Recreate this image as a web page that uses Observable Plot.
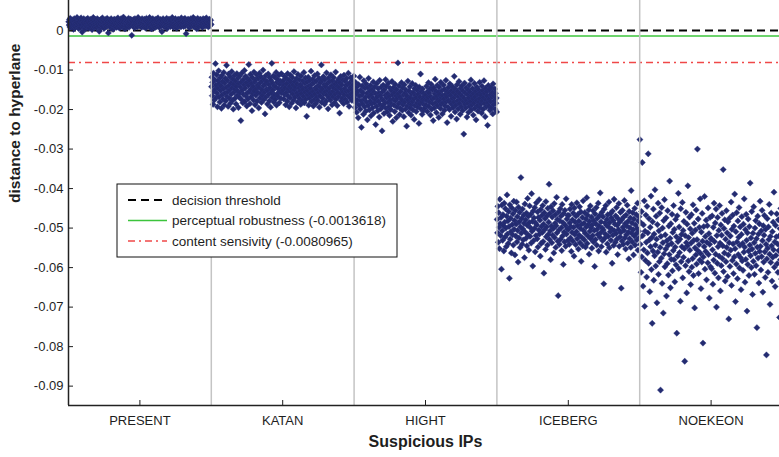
<!DOCTYPE html>
<html><head><meta charset="utf-8">
<script src="https://cdn.jsdelivr.net/npm/d3@7"></script>
<script src="https://cdn.jsdelivr.net/npm/@observablehq/plot@0.6"></script>
<style>
html,body{margin:0;padding:0;background:#fff;overflow:hidden}
#wrap{position:relative;width:779px;height:457px;overflow:hidden}
#legend{position:absolute;left:116px;top:183px}
</style></head><body><div id="wrap"></div>
<script>
// Categories (suspicious IPs)
const groups = ["PRESENT", "KATAN", "HIGHT", "ICEBERG", "NOEKEON"];
// Distance to hyperplane per sample, in units of 1e-4
const present = [22,14,28,9,31,18,25,6,20,12,27,16,3,24,30,11,19,8,26,15,
21,33,10,17,29,5,23,13,27,7,18,32,14,22,-4,25,9,20,30,12,
16,26,4,19,28,11,23,8,31,15,21,17,6,27,13,24,29,10,18,2,
25,14,33,20,9,22,16,28,12,26,7,19,30,15,23,11,27,-2,21,17,
24,8,29,13,20,32,10,25,18,5,22,14,28,16,9,26,19,31,12,23,
-6,21,15,27,11,24,7,30,17,20,13,26,3,22,18,29,10,25,14,19,
28,8,23,16,32,12,21,27,6,24,15,20,30,11,18,26,9,22,34,13,
25,17,4,28,19,14,23,10,27,21,16,31,8,24,12,20,29,15,26,-12,
18,22,11,28,14,25,7,30,19,16,23,13,27,9,21,33,17,24,12,26,
19,27,12,23,8,30,16,21,26,10,14,29,18,24,6,22,31,13,20,25,
11,17,28,15,33,9,23,19,26,4,21,14,30,17,24,12,27,7,20,16,
29,22,10,25,18,32,13,23,8,26,19,15,28,11,21,-3,24,17,30,14,
20,9,26,22,13,27,16,31,5,23,18,25,12,29,20,15,24,10,28,17,
22,33,14,26,8,19,27,12,21,30,16,24,6,25,18,13,29,20,11,23,
27,15,22,9,32,18,26,14,20,28,10,24,17,31,12,21,-8,25,16,23,
19,29,13,22,7,27,15,20,30,11,24,18,26,14,33,21,9,23,17,28,
12,25,19,4,22,31,16,27,10,20,24,13,29,18,23,15,26,8,21,30,
14,24,17,28,11,22,19,32,13,25,16,27,9,20,23,29,12,18,26,15];
const katan = [-142,-118,-165,-131,-187,-108,-154,-176,-125,-149,-84,-138,-170,-112,-159,-193,-127,-146,-102,-168,
-135,-181,-119,-152,-140,-197,-114,-163,-129,-174,-147,-106,-189,-133,-158,-121,-178,-144,-88,-167,
-126,-155,-192,-110,-139,-171,-150,-117,-184,-132,-161,-104,-145,-177,-123,-199,-136,-156,-113,-172,
-148,-128,-186,-141,-109,-164,-153,-120,-195,-134,-169,-115,-157,-143,-228,-130,-175,-107,-151,-183,
-124,-162,-137,-101,-180,-146,-116,-166,-131,-191,-158,-122,-173,-139,-86,-155,-127,-185,-111,-149,
-168,-134,-203,-119,-160,-142,-176,-105,-153,-130,-188,-125,-164,-147,-112,-179,-138,-157,-121,-196,
-144,-108,-171,-132,-159,-117,-182,-150,-127,-165,-100,-140,-175,-123,-156,-211,-135,-114,-168,-148,
-129,-186,-152,-110,-162,-137,-178,-119,-145,-194,-126,-157,-83,-170,-133,-151,-115,-181,-140,-163,
-118,-174,-143,-106,-189,-131,-160,-124,-167,-148,-113,-183,-136,-155,-128,-172,-109,-158,-146,-130,
-151,-127,-173,-139,-116,-162,-145,-188,-121,-157,-134,-179,-109,-166,-148,-125,-193,-141,-170,-113,
-155,-131,-184,-147,-119,-161,-138,-176,-104,-150,-129,-168,-143,-196,-122,-158,-135,-181,-111,-164,
-146,-124,-172,-153,-137,-187,-115,-160,-142,-178,-128,-149,-167,-106,-183,-133,-156,-120,-174,-144,
-217,-130,-163,-152,-118,-189,-140,-171,-126,-159,-147,-103,-180,-136,-165,-123,-154,-191,-132,-175,
-114,-161,-145,-185,-128,-150,-169,-110,-177,-139,-157,-121,-194,-143,-166,-131,-153,-87,-182,-126,
-148,-172,-117,-160,-137,-186,-124,-155,-142,-179,-107,-164,-134,-151,-198,-120,-170,-146,-129,-158,
-176,-112,-162,-140,-188,-127,-153,-168,-119,-145,-183,-135,-161,-105,-174,-149,-130,-190,-141,-157,
-123,-167,-144,-209,-132,-159,-116,-178,-150,-137,-171,-125,-156,-185,-113,-163,-147,-128,-175,-139,
-154,-121,-181,-136,-165,-108,-152,-192,-133,-170,-144,-119,-160,-149,-177,-126,-158,-138,-168,-115];
const hight = [-172,-148,-195,-131,-183,-160,-207,-142,-176,-154,-221,-137,-189,-166,-118,-199,-151,-178,-245,-163,
-140,-186,-157,-212,-127,-174,-193,-146,-169,-204,-135,-181,-159,-226,-144,-190,-121,-167,-201,-153,
-179,-139,-216,-162,-185,-149,-196,-171,-130,-209,-156,-183,-142,-175,-238,-161,-192,-134,-168,-203,
-147,-180,-158,-219,-126,-187,-165,-198,-143,-173,-254,-155,-191,-138,-177,-210,-150,-184,-164,-124,
-197,-141,-170,-206,-159,-182,-133,-193,-167,-215,-146,-176,-200,-152,-186,-129,-162,-230,-174,-144,
-189,-157,-205,-136,-178,-166,-221,-149,-194,-171,-82,-160,-185,-140,-213,-168,-197,-154,-180,-132,
-175,-202,-145,-188,-163,-218,-137,-181,-158,-199,-150,-172,-242,-165,-191,-128,-176,-208,-153,-184,
-142,-196,-169,-214,-160,-187,-134,-179,-201,-156,-173,-225,-147,-190,-164,-139,-205,-170,-183,-151,
-194,-161,-177,-235,-143,-186,-168,-110,-198,-155,-181,-212,-148,-174,-203,-159,-188,-166,-196,-175,
-163,-188,-141,-176,-205,-154,-169,-132,-192,-158,-181,-147,-214,-167,-136,-199,-173,-150,-185,-228,
-145,-171,-196,-160,-123,-183,-153,-208,-166,-139,-190,-175,-156,-220,-143,-179,-162,-197,-131,-186,
-170,-152,-211,-165,-184,-138,-174,-202,-149,-191,-161,-126,-180,-168,-233,-155,-194,-144,-177,-159,
-200,-135,-182,-164,-217,-151,-187,-172,-142,-195,-157,-181,-116,-169,-206,-148,-189,-163,-224,-137,
-178,-154,-198,-167,-129,-185,-160,-212,-146,-174,-193,-140,-166,-203,-153,-180,-262,-171,-133,-187,
-158,-196,-145,-176,-219,-162,-184,-150,-207,-170,-138,-192,-156,-179,-125,-201,-165,-188,-147,-173,
-214,-159,-183,-134,-197,-168,-153,-226,-177,-143,-190,-161,-204,-149,-181,-172,-131,-195,-157,-186,
-164,-209,-141,-178,-152,-199,-170,-127,-185,-160,-218,-146,-175,-193,-155,-166,-240,-182,-139,-191,
-173,-150,-202,-162,-180,-144,-196,-168,-157,-211,-135,-187,-165,-178,-148,-199,-159,-184,-171,-206];
const iceberg = [-478,-512,-445,-536,-461,-498,-552,-427,-489,-519,-473,-604,-442,-507,-531,-466,-494,-558,-437,-485,
-523,-451,-500,-547,-470,-416,-515,-482,-539,-458,-496,-627,-441,-528,-475,-509,-563,-449,-491,-517,
-464,-543,-432,-503,-481,-568,-455,-520,-490,-434,-535,-471,-506,-586,-447,-525,-484,-460,-549,-497,
-372,-513,-476,-541,-452,-502,-530,-467,-488,-575,-439,-510,-479,-526,-462,-545,-493,-425,-517,-470,
-556,-486,-444,-521,-499,-465,-538,-413,-508,-483,-596,-457,-532,-474,-501,-448,-560,-487,-519,-436,
-492,-527,-459,-548,-473,-505,-428,-515,-480,-571,-453,-539,-496,-468,-511,-443,-534,-490,-614,-461,
-504,-476,-554,-433,-522,-497,-469,-543,-450,-516,-485,-389,-529,-463,-507,-580,-446,-495,-537,-472,
-518,-456,-501,-563,-438,-524,-488,-466,-549,-494,-422,-512,-478,-533,-671,-459,-505,-541,-482,-451,
-528,-470,-499,-557,-440,-520,-486,-592,-463,-510,-535,-455,-493,-546,-426,-515,-477,-502,-468,-531,
-503,-468,-541,-487,-452,-525,-496,-559,-440,-511,-479,-533,-462,-498,-571,-449,-516,-485,-542,-470,
-509,-436,-527,-494,-465,-553,-482,-518,-446,-537,-501,-459,-584,-490,-524,-473,-545,-431,-506,-488,
-530,-461,-513,-548,-477,-497,-423,-539,-467,-520,-491,-454,-566,-483,-508,-444,-527,-499,-472,-551,
-492,-519,-456,-535,-481,-506,-597,-464,-529,-489,-448,-543,-503,-475,-516,-437,-558,-495,-469,-523,
-411,-512,-484,-547,-460,-500,-532,-471,-505,-641,-452,-526,-487,-515,-443,-561,-493,-478,-540,-466,
-521,-497,-434,-550,-486,-509,-463,-531,-474,-502,-589,-457,-518,-481,-544,-427,-507,-490,-536,-469,
-514,-448,-528,-493,-567,-476,-504,-438,-546,-485,-522,-460,-511,-652,-479,-533,-455,-498,-541,-472,
-506,-430,-525,-489,-553,-467,-517,-495,-442,-538,-483,-510,-578,-458,-527,-499,-474,-549,-405,-513,
-487,-535,-461,-504,-568,-477,-520,-450,-543,-492,-515,-466,-530,-501,-437,-556,-482,-508,-471,-524];
const noekeon = [-276,-541,-486,-612,-458,-573,-334,-519,-647,-492,-555,-431,-698,-508,-582,-467,-536,-624,-445,-563,
-512,-312,-589,-476,-530,-661,-498,-547,-419,-605,-524,-741,-484,-558,-452,-632,-515,-570,-403,-543,
-596,-470,-528,-689,-491,-561,-437,-617,-507,-585,-462,-549,-910,-521,-576,-448,-640,-500,-537,-715,
-481,-565,-428,-598,-517,-553,-474,-672,-532,-590,-456,-544,-619,-495,-567,-381,-526,-651,-489,-579,
-539,-465,-608,-511,-557,-443,-580,-503,-636,-548,-478,-593,-522,-766,-469,-571,-534,-412,-602,-497,
-562,-528,-685,-451,-585,-516,-547,-435,-626,-506,-574,-483,-552,-837,-519,-595,-460,-537,-664,-490,
-545,-393,-583,-524,-610,-472,-556,-502,-643,-538,-466,-599,-513,-577,-441,-620,-531,-488,-702,-550,
-505,-568,-454,-591,-529,-300,-557,-477,-615,-542,-498,-581,-426,-564,-653,-510,-586,-463,-533,-791,
-573,-496,-547,-420,-604,-521,-559,-480,-631,-536,-494,-588,-449,-567,-514,-677,-541,-473,-598,-527,
-527,-603,-469,-555,-642,-498,-581,-437,-534,-614,-487,-566,-452,-700,-519,-589,-473,-547,-626,-506,
-571,-443,-538,-659,-492,-595,-518,-463,-577,-545,-352,-610,-501,-563,-479,-634,-528,-585,-456,-549,
-512,-623,-484,-568,-730,-537,-475,-597,-520,-556,-434,-645,-503,-582,-467,-540,-615,-495,-573,-414,
-552,-686,-509,-591,-461,-535,-628,-482,-567,-523,-448,-601,-544,-497,-575,-656,-516,-471,-583,-539,
-607,-490,-561,-426,-548,-637,-504,-579,-465,-531,-710,-512,-592,-477,-558,-620,-496,-543,-386,-570,
-525,-600,-458,-553,-668,-513,-584,-446,-537,-617,-500,-564,-481,-595,-527,-752,-548,-470,-576,-515,
-639,-489,-559,-432,-546,-606,-507,-572,-455,-532,-662,-494,-586,-518,-468,-560,-625,-503,-541,-821,
-578,-476,-551,-612,-497,-529,-440,-566,-693,-521,-587,-462,-545,-634,-509,-574,-485,-555,-409,-599,
-535,-648,-493,-569,-522,-464,-590,-540,-612,-479,-557,-520,-726,-501,-580,-450,-547,-629,-514,-562];
// Reference lines
const decisionThreshold = 0;
const perceptualRobustness = -0.0013618;
const contentSensitivity = -0.0080965;
// Y tick values
const yTicks = [0, -0.01, -0.02, -0.03, -0.04, -0.05, -0.06, -0.07, -0.08, -0.09];

const series = [present, katan, hight, iceberg, noekeon];
const N = present.length;
const data = series.flatMap((vals, g) => vals.map((v, j) => ({group: groups[g], idx: g * N + j + 0.5, d: v * 1e-4})));
const boundaries = groups.map((g, i) => (i + 1) * N);
const centers = groups.map((g, i) => (i + 0.5) * N);
const yMin = -0.0949, yMax = 0.0076;
const fmt = d => d === 0 ? "0" : (d < 0 ? "-" : "") + Math.abs(d).toFixed(2);
const font = "'Liberation Sans', Arial, sans-serif";

const chart = Plot.plot({
  width: 779, height: 457,
  marginLeft: 68, marginRight: -3, marginTop: 0, marginBottom: 52,
  style: {fontFamily: font, fontSize: "13px", color: "#1e1e1e", background: "#fff"},
  x: {domain: [0, groups.length * N]},
  y: {domain: [yMin, yMax]},
  marks: [
    Plot.ruleY([decisionThreshold], {stroke: "#000", strokeWidth: 2, strokeDasharray: "8,5"}),
    Plot.ruleY([perceptualRobustness], {stroke: "#3cc43c", strokeWidth: 1.5}),
    Plot.ruleY([contentSensitivity], {stroke: "#f04848", strokeWidth: 1.5, strokeDasharray: "7,4,2,4"}),
    Plot.dot(data, {x: "idx", y: "d", symbol: "square", r: 2.5, rotate: 45, fill: "#232b70", stroke: "#2c3580", strokeWidth: 0.4}),
    Plot.ruleX(boundaries, {stroke: "#c4c4c4", strokeWidth: 1.5}),
    Plot.ruleX([0], {stroke: "#222", strokeWidth: 1.5}),
    Plot.ruleY([yMin], {stroke: "#222", strokeWidth: 1.5}),
    Plot.axisY({ticks: yTicks, tickSize: -5, tickPadding: 10, tickFormat: fmt, label: null}),
    Plot.axisX({ticks: centers, tickSize: -5, tickPadding: 15, tickFormat: d => groups[Math.floor(d / N)], label: null}),
    Plot.text(["distance to hyperlane"], {text: d => d, frameAnchor: "left", dx: -53, rotate: -90, fontSize: 15.5, fontWeight: "bold"}),
    Plot.text(["Suspicious IPs"], {text: d => d, frameAnchor: "bottom", dy: 41, fontSize: 16, fontWeight: "bold"})
  ]
});
const wrap = document.getElementById("wrap");
wrap.appendChild(chart);

// Legend overlay
const items = [
  {label: "decision threshold", stroke: "#000", width: 2, dash: "8,5"},
  {label: "perceptual robustness (-0.0013618)", stroke: "#3cc43c", width: 1.5, dash: null},
  {label: "content sensivity (-0.0080965)", stroke: "#f04848", width: 1.5, dash: "7,4,2,4"}
];
const ns = "http://www.w3.org/2000/svg";
const lg = document.createElementNS(ns, "svg");
lg.setAttribute("id", "legend");
lg.setAttribute("width", 284); lg.setAttribute("height", 76);
const rect = document.createElementNS(ns, "rect");
Object.entries({x: 1, y: 1, width: 280, height: 73, fill: "#fff", stroke: "#111", "stroke-width": 1}).forEach(([k, v]) => rect.setAttribute(k, v));
lg.appendChild(rect);
items.forEach((it, i) => {
  const yy = 17 + i * 20.5;
  const ln = document.createElementNS(ns, "line");
  Object.entries({x1: 12, x2: 51, y1: yy, y2: yy, stroke: it.stroke, "stroke-width": it.width}).forEach(([k, v]) => ln.setAttribute(k, v));
  if (it.dash) ln.setAttribute("stroke-dasharray", it.dash);
  lg.appendChild(ln);
  const tx = document.createElementNS(ns, "text");
  Object.entries({x: 56, y: yy, "dominant-baseline": "central", fill: "#1e1e1e", "font-family": font, "font-size": 13.5}).forEach(([k, v]) => tx.setAttribute(k, v));
  tx.textContent = it.label;
  lg.appendChild(tx);
});
wrap.appendChild(lg);
</script></body></html>
